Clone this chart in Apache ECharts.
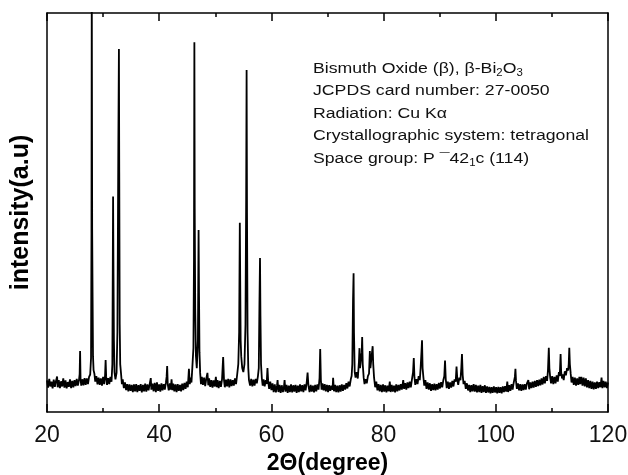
<!DOCTYPE html>
<html>
<head>
<meta charset="utf-8">
<script src="https://cdn.jsdelivr.net/npm/echarts@6/dist/echarts.min.js"></script>
<style>
  html, body { margin: 0; padding: 0; background: #fff; }
  #chart { width: 628px; height: 475px; }
</style>
</head>
<body>
<div id="chart"></div>
<script>
// XRD scan, [2theta, intensity], split by range
const scan20to35 = [
  [20.0, 7.9], [20.2, 6.1], [20.4, 8.3], [20.6, 6.4], [20.8, 7.6], [21.0, 5.9], [21.2, 8.1], [21.4, 6.3],
  [21.6, 7.8], [21.8, 8.9], [21.9, 6.2], [22.1, 8.0], [22.3, 6.0], [22.5, 7.7], [22.7, 6.4], [22.9, 8.4],
  [23.1, 6.1], [23.3, 7.9], [23.5, 5.9], [23.7, 7.5], [23.9, 6.3], [24.1, 8.2], [24.3, 6.0], [24.5, 7.8],
  [24.7, 6.2], [24.9, 8.0], [25.1, 6.5], [25.3, 8.3], [25.5, 6.6], [25.7, 8.0], [25.82, 9.5], [25.9, 15.3],
  [25.98, 8.4], [26.1, 6.6], [26.3, 8.2], [26.5, 6.7], [26.7, 8.5], [26.9, 6.8], [27.1, 8.4], [27.3, 7.0],
  [27.5, 8.8], [27.7, 9.4], [27.85, 13.5], [27.93, 45], [27.98, 110], [28.05, 46], [28.12, 30], [28.2, 14],
  [28.3, 10.5], [28.45, 9.6], [28.6, 7.6], [28.8, 9.0], [29.0, 6.9], [29.2, 8.6], [29.4, 6.8], [29.6, 8.4],
  [29.8, 6.6], [30.0, 8.8], [30.2, 7.0], [30.35, 9.2], [30.45, 13.0], [30.55, 8.8], [30.7, 6.8], [30.9, 8.5],
  [31.1, 7.0], [31.3, 8.8], [31.5, 7.6], [31.65, 12], [31.78, 54], [31.85, 35], [31.93, 18], [32.03, 10],
  [32.2, 8.2], [32.4, 9.8], [32.55, 20], [32.72, 68], [32.82, 91], [32.88, 60], [32.96, 22], [33.05, 12],
  [33.2, 9.6], [33.35, 7.0], [33.5, 8.2], [33.7, 6.0], [33.9, 7.4], [34.1, 5.5], [34.3, 7.0], [34.5, 5.2],
  [34.7, 6.9], [34.9, 5.3]
];
const scan35to60 = [
  [35.1, 6.8], [35.3, 5.0], [35.5, 6.9], [35.7, 5.2], [35.9, 7.0], [36.1, 5.0], [36.3, 6.7], [36.5, 5.3],
  [36.7, 7.0], [36.9, 4.9], [37.1, 6.8], [37.3, 5.2], [37.5, 7.1], [37.7, 5.1], [37.9, 6.9], [38.1, 5.4],
  [38.3, 7.0], [38.5, 8.5], [38.6, 5.6], [38.8, 7.1], [39.0, 5.2], [39.2, 7.3], [39.4, 5.0], [39.6, 7.4],
  [39.8, 5.3], [40.0, 6.9], [40.2, 5.1], [40.4, 7.2], [40.6, 5.4], [40.8, 7.0], [41.0, 5.6], [41.2, 7.4],
  [41.32, 8.8], [41.42, 11.5], [41.52, 7.0], [41.7, 5.4], [41.9, 7.2], [42.05, 5.6], [42.2, 8.2], [42.35, 5.5],
  [42.5, 7.1], [42.7, 5.2], [42.9, 6.9], [43.1, 5.0], [43.3, 7.0], [43.5, 5.3], [43.7, 6.8], [43.9, 5.2],
  [44.1, 7.1], [44.3, 5.5], [44.5, 7.3], [44.7, 5.8], [44.9, 7.6], [45.1, 6.2], [45.3, 10.8], [45.45, 7.0],
  [45.6, 8.6], [45.75, 7.4], [45.9, 11], [46.1, 16], [46.2, 38], [46.27, 92.7], [46.33, 51], [46.42, 26],
  [46.55, 14], [46.7, 11], [46.9, 18], [47.02, 45.6], [47.1, 29], [47.18, 15], [47.3, 9.8], [47.45, 7.0],
  [47.6, 8.8], [47.8, 6.8], [48.0, 8.6], [48.2, 6.5], [48.4, 8.4], [48.6, 9.8], [48.75, 6.7], [48.9, 8.4],
  [49.1, 6.3], [49.3, 8.0], [49.5, 6.1], [49.7, 7.9], [49.9, 6.4], [50.1, 8.8], [50.25, 6.2], [50.4, 8.0],
  [50.6, 6.0], [50.8, 7.8], [51.0, 6.3], [51.2, 8.2], [51.4, 13.8], [51.55, 8.0], [51.7, 6.2], [51.9, 8.1],
  [52.1, 6.4], [52.3, 8.3], [52.5, 6.2], [52.7, 8.2], [52.9, 6.5], [53.1, 8.0], [53.3, 6.6], [53.5, 8.4],
  [53.7, 7.0], [53.9, 9.4], [54.1, 12], [54.25, 20], [54.37, 47.4], [54.44, 33], [54.52, 18], [54.62, 14],
  [54.8, 11], [55.0, 10], [55.2, 12], [55.38, 22], [55.5, 53], [55.58, 85.7], [55.65, 50], [55.75, 20],
  [55.88, 11], [56.0, 8.0], [56.2, 6.6], [56.4, 8.3], [56.6, 6.4], [56.8, 8.1], [57.0, 6.6], [57.2, 8.3],
  [57.4, 7.2], [57.6, 9.0], [57.75, 11], [57.87, 27.3], [57.97, 38.6], [58.05, 24], [58.15, 12], [58.3, 8.4],
  [58.45, 6.6], [58.6, 8.2], [58.8, 6.4], [59.0, 8.0], [59.15, 7.0], [59.3, 11], [59.42, 7.8], [59.6, 5.8],
  [59.8, 7.6], [60.0, 5.5]
];
const scan60to80 = [
  [60.2, 7.2], [60.4, 5.0], [60.6, 6.9], [60.8, 4.9], [61.0, 6.6], [61.1, 8.0], [61.25, 5.0], [61.45, 6.8],
  [61.65, 4.8], [61.85, 6.7], [62.05, 5.0], [62.25, 6.5], [62.35, 8.0], [62.5, 5.1], [62.7, 6.8], [62.9, 4.8],
  [63.1, 6.6], [63.3, 5.0], [63.5, 6.9], [63.7, 4.9], [63.9, 6.7], [64.1, 5.1], [64.3, 6.8], [64.5, 4.8],
  [64.7, 6.6], [64.9, 5.0], [65.1, 6.9], [65.3, 5.2], [65.5, 6.7], [65.7, 5.0], [65.9, 6.9], [66.1, 5.4],
  [66.3, 7.5], [66.45, 9.9], [66.6, 6.6], [66.8, 5.0], [67.0, 6.8], [67.2, 5.1], [67.4, 6.6], [67.6, 4.9],
  [67.8, 6.8], [68.0, 5.2], [68.2, 6.9], [68.4, 5.6], [68.58, 8.5], [68.7, 15.8], [68.82, 8.0], [68.95, 5.6],
  [69.1, 7.2], [69.3, 5.4], [69.5, 7.0], [69.7, 5.2], [69.9, 6.8], [70.1, 5.0], [70.3, 6.7], [70.5, 5.3],
  [70.7, 6.6], [70.9, 5.6], [71.0, 8.6], [71.15, 5.2], [71.35, 6.8], [71.55, 5.0], [71.75, 6.6], [71.95, 4.9],
  [72.15, 6.7], [72.35, 5.1], [72.55, 6.9], [72.75, 5.3], [72.95, 6.8], [73.15, 5.6], [73.35, 7.2], [73.55, 5.9],
  [73.75, 7.6], [73.95, 6.4], [74.15, 8.2], [74.3, 9.0], [74.42, 12], [74.55, 28], [74.65, 34.8], [74.72, 20],
  [74.85, 10], [75.0, 8.6], [75.2, 10], [75.4, 8.4], [75.6, 12.5], [75.7, 16], [75.8, 11], [75.95, 10.5],
  [76.1, 15], [76.18, 18.8], [76.28, 12], [76.45, 8.6], [76.6, 7.0], [76.8, 8.2], [77.0, 7.2], [77.2, 9.0],
  [77.4, 9.6], [77.55, 15.3], [77.65, 11], [77.85, 10.5], [78.05, 16.5], [78.15, 12], [78.3, 8.6], [78.5, 6.2],
  [78.7, 7.6], [78.9, 5.4], [79.1, 7.0], [79.3, 5.2], [79.5, 6.8], [79.7, 5.0], [79.9, 6.9]
];
const scan80to100 = [
  [80.1, 5.1], [80.3, 6.7], [80.5, 4.9], [80.7, 6.6], [80.9, 5.2], [81.1, 7.6], [81.25, 5.0], [81.45, 6.8],
  [81.65, 5.1], [81.85, 6.6], [82.05, 4.9], [82.25, 6.9], [82.45, 5.2], [82.65, 6.8], [82.85, 5.4], [83.05, 7.0],
  [83.25, 5.6], [83.5, 8.0], [83.65, 5.8], [83.85, 7.2], [84.05, 5.6], [84.25, 7.4], [84.45, 6.0], [84.65, 7.6],
  [84.85, 6.2], [85.1, 8.6], [85.25, 10], [85.38, 13.5], [85.5, 8.6], [85.65, 6.8], [85.85, 8.2], [86.05, 7.0],
  [86.25, 9.0], [86.45, 8.0], [86.6, 11], [86.75, 15], [86.85, 18], [86.95, 11], [87.1, 8.6], [87.25, 6.6],
  [87.45, 8.0], [87.65, 5.8], [87.85, 7.4], [88.05, 5.6], [88.25, 7.2], [88.45, 5.3], [88.65, 7.0], [88.85, 5.5],
  [89.05, 7.1], [89.25, 5.4], [89.45, 7.0], [89.65, 5.6], [89.85, 7.3], [90.05, 5.9], [90.25, 7.5], [90.45, 6.2],
  [90.65, 8.0], [90.82, 9.0], [90.95, 12.9], [91.08, 8.2], [91.25, 6.0], [91.45, 7.6], [91.65, 5.8], [91.85, 7.4],
  [92.05, 6.1], [92.25, 7.8], [92.45, 6.4], [92.65, 8.2], [92.85, 7.6], [93.0, 11.4], [93.15, 8.0], [93.3, 6.8],
  [93.5, 8.6], [93.7, 8.0], [93.85, 11], [93.97, 14.5], [94.1, 9.2], [94.25, 7.0], [94.45, 7.8], [94.65, 5.8],
  [94.85, 7.2], [95.05, 5.4], [95.25, 6.8], [95.45, 5.0], [95.65, 6.7], [95.85, 5.2], [96.05, 7.0], [96.25, 5.1],
  [96.45, 6.8], [96.65, 4.9], [96.85, 6.6], [97.05, 5.0], [97.25, 6.8], [97.45, 4.8], [97.65, 6.5], [97.85, 5.0],
  [98.05, 6.7], [98.25, 4.8], [98.45, 6.4], [98.65, 4.9], [98.85, 6.3], [99.05, 4.7], [99.25, 6.2], [99.45, 4.8],
  [99.65, 6.4], [99.85, 4.9]
];
const scan100to120 = [
  [100.05, 6.2], [100.25, 4.7], [100.45, 6.3], [100.65, 4.8], [100.85, 6.2], [101.05, 4.7], [101.25, 6.4], [101.45, 5.0],
  [101.65, 6.5], [101.85, 5.1], [102.05, 7.6], [102.2, 5.0], [102.4, 6.7], [102.6, 5.3], [102.8, 7.0], [103.0, 5.6],
  [103.2, 7.4], [103.4, 8.8], [103.5, 10.8], [103.6, 7.8], [103.75, 5.8], [103.95, 7.2], [104.15, 5.4], [104.35, 7.0],
  [104.55, 5.3], [104.75, 6.9], [104.95, 5.5], [105.15, 7.0], [105.35, 5.6], [105.55, 7.2], [105.8, 8.0], [105.95, 5.7],
  [106.15, 7.4], [106.35, 6.0], [106.55, 7.6], [106.75, 6.1], [106.95, 7.8], [107.15, 6.3], [107.35, 8.0], [107.55, 6.5],
  [107.75, 8.1], [107.95, 6.7], [108.15, 8.4], [108.35, 6.9], [108.55, 8.8], [108.75, 7.2], [108.95, 9.0], [109.15, 7.8],
  [109.3, 10.5], [109.45, 16.1], [109.55, 11], [109.7, 8.6], [109.85, 7.2], [110.05, 9.0], [110.25, 7.0], [110.45, 8.8],
  [110.65, 7.2], [110.85, 9.2], [111.05, 7.6], [111.25, 10], [111.4, 9.0], [111.55, 14.5], [111.65, 10], [111.8, 8.4],
  [111.95, 9.4], [112.1, 8.0], [112.3, 10.2], [112.5, 9.2], [112.7, 11], [112.9, 10.4], [113.0, 12], [113.1, 16.1],
  [113.2, 12], [113.35, 9.6], [113.5, 7.4], [113.7, 8.8], [113.9, 6.8], [114.1, 8.6], [114.3, 6.6], [114.5, 8.4],
  [114.7, 6.8], [114.9, 8.8], [115.05, 7.0], [115.25, 8.8], [115.45, 6.6], [115.65, 8.6], [115.85, 6.4], [116.05, 8.4],
  [116.25, 6.2], [116.45, 8.0], [116.65, 6.0], [116.85, 7.8], [117.05, 5.8], [117.25, 7.6], [117.45, 5.7], [117.65, 7.4],
  [117.85, 5.8], [118.05, 7.6], [118.25, 6.0], [118.45, 7.5], [118.65, 6.2], [118.85, 8.6], [119.0, 6.0], [119.2, 7.8],
  [119.4, 6.2], [119.6, 7.6], [119.8, 6.0], [120.0, 7.4]
];

const cardLines = [
  'Bismuth Oxide (β), β-Bi{sub|2}O{sub|3}',
  'JCPDS card number: 27-0050',
  'Radiation: Cu Kα',
  'Crystallographic system: tetragonal',
  'Space group: P \u00AF42{sub|1}c (114)'
]

const scan = [].concat(scan20to35, scan35to60, scan60to80, scan80to100, scan100to120)

const font = '"Liberation Sans", Arial, sans-serif'

const chart = echarts.init(document.getElementById('chart'))

const xBase = {
  type: 'value',
  min: 20,
  max: 120,
  interval: 20,
  splitLine: { show: false },
  axisLine: { onZero: false, lineStyle: { color: '#000', width: 1.5 } },
  axisTick: { inside: true, length: 8, lineStyle: { color: '#000', width: 1.5 } },
  minorTick: { show: true, splitNumber: 2, length: 4, lineStyle: { color: '#000', width: 1.5 } },
}

chart.setOption({
  animation: false,
  backgroundColor: '#fff',
  grid: { left: 47, right: 20, top: 13, bottom: 63, outerBoundsMode: 'none' },
  xAxis: [
    {
      ...xBase,
      position: 'bottom',
      name: '2Θ(degree)',
      nameLocation: 'middle',
      nameGap: 37,
      nameTextStyle: { fontFamily: font, fontSize: 23, fontWeight: 'bold', color: '#000' },
      axisLabel: { fontFamily: font, fontSize: 23, color: '#111', margin: 12 },
    },
    {
      ...xBase,
      position: 'top',
      axisLabel: { show: false },
    },
  ],
  yAxis: [
    {
      type: 'value',
      min: 0,
      max: 100,
      position: 'left',
      name: 'intensity(a.u)',
      nameLocation: 'middle',
      nameGap: 13,
      nameTextStyle: { fontFamily: font, fontSize: 25, fontWeight: 'bold', color: '#000' },
      axisLine: { show: true, onZero: false, lineStyle: { color: '#000', width: 1.5 } },
      axisTick: { show: false },
      axisLabel: { show: false },
      splitLine: { show: false },
    },
    {
      type: 'value',
      min: 0,
      max: 100,
      position: 'right',
      axisLine: { show: true, onZero: false, lineStyle: { color: '#000', width: 1.5 } },
      axisTick: { show: false },
      axisLabel: { show: false },
      splitLine: { show: false },
    },
  ],
  graphic: [
    {
      type: 'text',
      left: 313,
      top: 57,
      scaleX: 1.14,
      originX: 0,
      style: {
        text: cardLines.join('\n'),
        fontFamily: font,
        fontSize: 15.5,
        lineHeight: 22.5,
        fill: '#111',
        rich: {
          sub: { fontFamily: font, fontSize: 10, padding: [9, 0, 0, 0] },
        },
      },
    },
  ],
  series: [
    {
      type: 'line',
      data: scan,
      xAxisIndex: 0,
      yAxisIndex: 0,
      showSymbol: false,
      symbol: 'none',
      clip: true,
      lineStyle: { color: '#000', width: 1.8 },
    },
  ],
})
</script>
</body>
</html>
